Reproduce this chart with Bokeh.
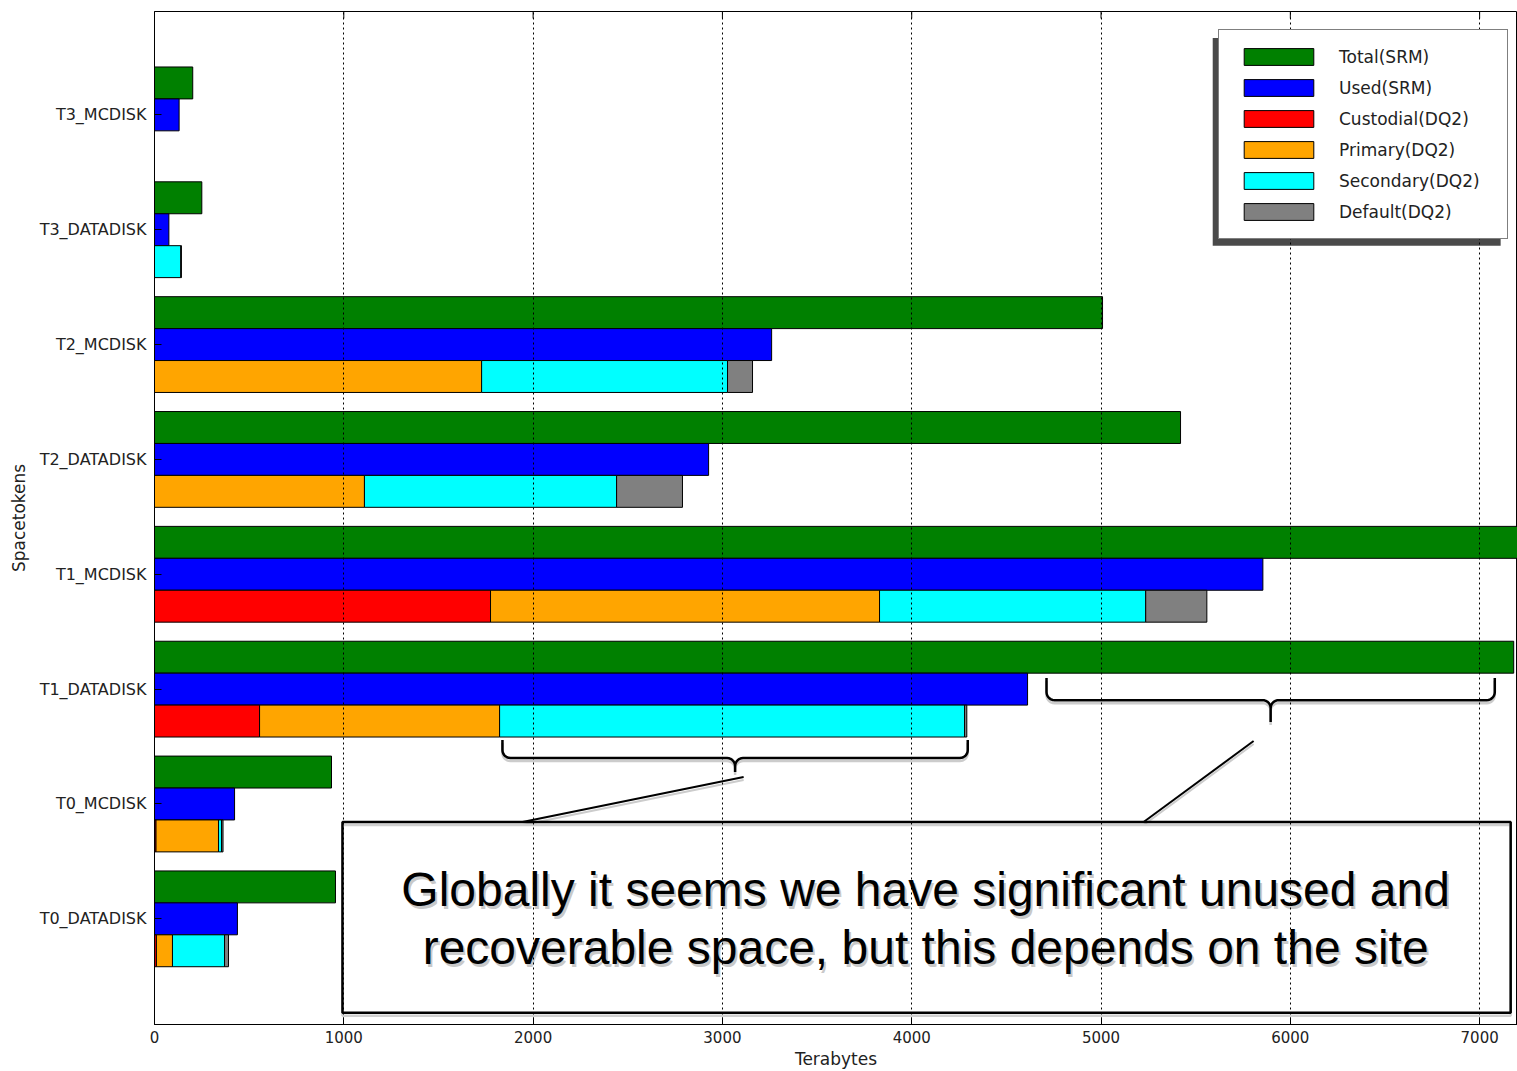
import numpy as np
from bokeh.plotting import figure
from bokeh.models import (Legend, LegendItem, FixedTicker, Range1d,
                          ColumnDataSource)
from bokeh.embed import file_html
from bokeh.resources import INLINE
from bokeh.core.properties import value

# ---------------- data ----------------
tokens = ["T0_DATADISK", "T0_MCDISK", "T1_DATADISK", "T1_MCDISK",
          "T2_DATADISK", "T2_MCDISK", "T3_DATADISK", "T3_MCDISK"]
total = [956, 935, 7180, 7450, 5420, 5008, 250, 202]
used = [438, 423, 4612, 5855, 2927, 3260, 76, 130]
custodial = [10, 8, 555, 1775, 0, 0, 0, 0]
primary = [85, 330, 1268, 2055, 1109, 1728, 0, 0]
secondary = [275, 16, 2456, 1406, 1332, 1299, 139, 0]
default = [21, 8, 12, 323, 348, 132, 3, 0]

x_ticks = [0, 1000, 2000, 3000, 4000, 5000, 6000, 7000]
legend_labels = ["Total(SRM)", "Used(SRM)", "Custodial(DQ2)", "Primary(DQ2)",
                 "Secondary(DQ2)", "Default(DQ2)"]
colors = ["#008000", "#0000ff", "#ff0000", "#ffa500", "#00ffff", "#808080"]
note_lines = ["Globally it seems we have significant unused and",
              "recoverable space, but this depends on the site"]

FONT = "DejaVu Sans"
y = np.arange(len(tokens), dtype=float)
H = 0.278
X0, X1 = 0, 7200
Y0, Y1 = -0.92, 7.9

p = figure(width=1517, height=1071, x_range=Range1d(X0, X1),
           y_range=Range1d(Y0, Y1), output_backend="svg",
           toolbar_location=None, min_border_left=154, min_border_right=0,
           min_border_top=11, min_border_bottom=46)
p.background_fill_color = "white"
p.border_fill_color = "white"
p.outline_line_color = "black"
p.outline_line_width = 1

px_x = 1000 / 189.3   # TB per pixel
px_y = 1 / 115.0      # category units per pixel

# axes
p.xaxis.ticker = FixedTicker(ticks=x_ticks)
p.xaxis.axis_label = "Terabytes"
p.yaxis.ticker = FixedTicker(ticks=list(range(len(tokens))))
p.yaxis.major_label_overrides = {i: t for i, t in enumerate(tokens)}
p.yaxis.axis_label = "Spacetokens"
for ax in (p.xaxis[0], p.yaxis[0]):
    ax.major_tick_in = 7
    ax.major_tick_out = 0
    ax.minor_tick_in = 0
    ax.minor_tick_out = 0
    ax.axis_line_color = "black"
    ax.major_tick_line_color = "black"
    ax.major_label_text_font = FONT
    ax.major_label_text_color = "#222222"
    ax.axis_label_text_font = FONT
    ax.axis_label_text_font_size = "17px"
    ax.axis_label_text_font_style = "normal"
    ax.axis_label_text_color = "#222222"
p.xaxis.major_label_text_font_size = "15px"
p.yaxis.major_label_text_font_size = "16px"
p.xaxis.major_label_standoff = 6
p.xaxis.axis_label_standoff = 3
p.yaxis.major_label_standoff = 8
p.yaxis.axis_label_standoff = 8

# inward ticks along the top edge, from the tick list
p.segment(x0=x_ticks, x1=x_ticks, y0=[Y1] * len(x_ticks),
          y1=[Y1 - 7 * px_y] * len(x_ticks), line_color="black", line_width=1)

p.ygrid.visible = False
p.xgrid.ticker = FixedTicker(ticks=x_ticks)
p.xgrid.grid_line_color = "black"
p.xgrid.grid_line_dash = "2 3"
p.xgrid.grid_line_width = 1
p.xgrid.level = "guide"

# ---------------- bars ----------------
renderers = []
r = p.hbar(y=y + H, left=0, right=total, height=H, fill_color=colors[0],
           line_color="black", line_width=1)
renderers.append(r)
r = p.hbar(y=y, left=0, right=used, height=H, fill_color=colors[1],
           line_color="black", line_width=1)
renderers.append(r)
start = np.zeros(len(tokens))
for vals, c in zip([custodial, primary, secondary, default], colors[2:]):
    end = start + np.array(vals, dtype=float)
    src = ColumnDataSource(dict(y=y - H, left=start.copy(), right=end.copy()))
    r = p.hbar(y="y", left="left", right="right", height=H, source=src,
               fill_color=c, line_color="black", line_width=1)
    renderers.append(r)
    start = end

# ---------------- legend ----------------
p.quad(left=[5590], right=[7111], bottom=[5.86], top=[7.67],
       fill_color="#4a4a4a", line_color=None)
legend = Legend(items=[LegendItem(label=l, renderers=[rr])
                       for l, rr in zip(legend_labels, renderers)],
                location=(1064, 785), margin=0, padding=16, spacing=10,
                glyph_width=87, glyph_height=21, label_height=18,
                label_width=152, label_standoff=17, label_text_font=FONT,
                label_text_font_size="17px", label_text_color="#222222",
                border_line_color="black", border_line_width=1.5,
                background_fill_color="white", background_fill_alpha=1)
p.add_layout(legend, "center")

# ---------------- annotation: braces, pointers, text box ----------------
i_t1d = tokens.index("T1_DATADISK")


def brace(x0, x1, ytop, yh, ytip):
    rx, ry = 8 * px_x, 8 * px_y
    xm = (x0 + x1) / 2
    xs, ys = [x0], [ytop]
    for a in np.linspace(np.pi, 1.5 * np.pi, 8):
        xs.append(x0 + rx + rx * np.cos(a)); ys.append(yh + ry + ry * np.sin(a))
    for a in np.linspace(0.5 * np.pi, 0, 8):
        xs.append(xm - rx + rx * np.cos(a)); ys.append(yh - ry + ry * np.sin(a))
    xs.append(xm); ys.append(ytip)
    for a in np.linspace(np.pi, 0.5 * np.pi, 8):
        xs.append(xm + rx + rx * np.cos(a)); ys.append(yh - ry + ry * np.sin(a))
    for a in np.linspace(1.5 * np.pi, 2 * np.pi, 8):
        xs.append(x1 - rx + rx * np.cos(a)); ys.append(yh + ry + ry * np.sin(a))
    xs.append(x1); ys.append(ytop)
    return xs, ys


sec_l = custodial[i_t1d] + primary[i_t1d]
sec_r = sec_l + secondary[i_t1d] + default[i_t1d]
b1 = brace(sec_l + 15, sec_r + 5, 1.557, 1.40, 1.278)
b2 = brace(used[i_t1d] + 100, total[i_t1d] - 100, 2.096, 1.904, 1.713)
dy = 3 * px_y
for xs, ys in (b1, b2):
    p.line(xs, [v - dy for v in ys], line_color="#cccccc", line_width=2.5)
    p.line(xs, ys, line_color="black", line_width=2.5)

pointers = [([3112, 1944], [1.235, 0.843]), ([5806, 5225], [1.548, 0.843])]
for xs, ys in pointers:
    p.line(xs, [v - dy for v in ys], line_color="#cccccc", line_width=2)
    p.line(xs, ys, line_color="black", line_width=2)

box = dict(left=993, right=7164, top=0.843, bottom=-0.817)
p.quad(left=[box["left"]], right=[box["right"]], top=[box["top"] - dy],
       bottom=[box["bottom"] - dy], fill_color=None, line_color="#d0d0d0",
       line_width=2.5)
p.quad(left=[box["left"]], right=[box["right"]], top=[box["top"]],
       bottom=[box["bottom"]], fill_color=None, line_color="black",
       line_width=2.5)

tx = [(box["left"] + box["right"]) / 2 - 5] * 2
ty = [0.252, -0.252]
p.text(x=tx, y=ty, text=note_lines, text_font=value("Liberation Sans"),
       text_font_size="48px", text_align="center", text_baseline="middle",
       text_color="#9a9a9a", x_offset=2, y_offset=3, text_alpha=0.55)
p.text(x=tx, y=ty, text=note_lines, text_font=value("Liberation Sans"),
       text_font_size="48px", text_align="center", text_baseline="middle",
       text_color="black")

open("out.html", "w").write(file_html(p, INLINE))
